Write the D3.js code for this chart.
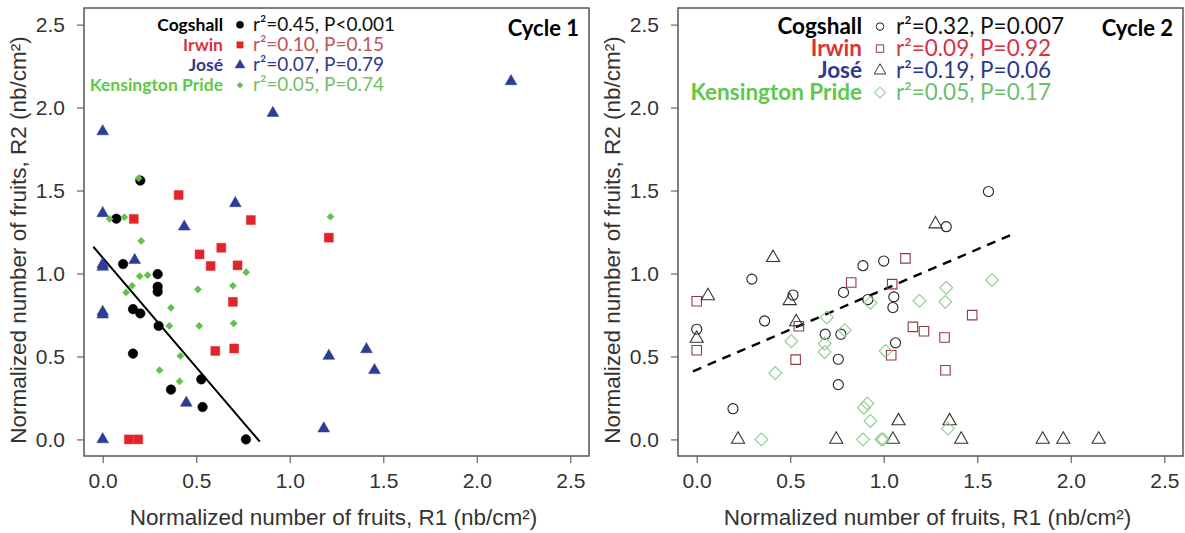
<!DOCTYPE html>
<html>
<head>
<meta charset="utf-8">
<script src="https://cdn.jsdelivr.net/npm/d3@7"></script>
<style>
  html, body { margin: 0; padding: 0; background: #fff; }
  svg { display: block; }
</style>
</head>
<body>
<svg id="chart" width="1185" height="533"></svg>
<script>
// ---- Data: normalized fruit numbers, [R1, R2] per tree ----
// Cycle 1
const cogshallC1 = [[0.201,1.56],[0.073,1.33],[0.109,1.057],[0.294,0.996],[0.294,0.92],[0.294,0.89],
  [0.162,0.785],[0.201,0.759],[0.299,0.684],[0.162,0.517],[0.527,0.362],[0.365,0.300],[0.534,0.195],[0.766,0.0]];
const irwinC1 = [[0.406,1.473],[0.166,1.329],[0.792,1.322],[0.634,1.155],[0.518,1.115],[0.577,1.045],
  [0.721,1.049],[0.696,0.829],[0.602,0.533],[0.703,0.548],[0.14,0.0],[0.19,0.0],[1.209,1.216]];
const joseC1 = [[0.0,1.856],[0.910,1.967],[2.183,2.158],[0.709,1.423],[0.0,1.363],[0.436,1.282],[0.0,1.055],
  [0.0,1.04],[0.171,1.08],[0.0,0.768],[0.0,0.752],[0.447,0.22],[0.0,0.0],[1.209,0.503],[1.410,0.543],[1.453,0.417],[1.182,0.065]];
const kpC1 = [[0.192,1.574],[0.037,1.329],[0.116,1.339],[0.206,1.196],[0.767,1.008],[0.198,0.984],[0.240,0.99],
  [0.157,0.926],[0.125,0.886],[0.509,0.904],[0.696,0.926],[0.365,0.793],[0.356,0.684],[0.516,0.684],
  [0.700,0.699],[0.415,0.503],[0.304,0.417],[0.411,0.350],[1.218,1.342]];

// Cycle 2
const cogshallC2 = [[1.334,1.282],[0.889,1.047],[1.0,1.075],[0.295,0.966],[0.785,0.886],[1.054,0.859],
  [1.049,0.795],[0.915,0.843],[0.515,0.870],[0.0,0.664],[0.363,0.714],[0.687,0.634],[0.771,0.634],
  [1.063,0.582],[0.757,0.483],[0.757,0.330],[0.194,0.185],[1.560,1.494]];
const irwinC2 = [[1.116,1.091],[0.826,0.946],[1.045,0.936],[0.0,0.833],[0.0,0.537],[0.546,0.682],[1.040,0.507],
  [0.529,0.481],[1.156,0.678],[1.215,0.652],[1.325,0.614],[1.330,0.417],[1.473,0.749]];
const joseC2 = [[1.277,1.298],[0.408,1.095],[0.06,0.865],[0.497,0.835],[0.0,0.608],[0.532,0.708],[1.079,0.111],
  [1.352,0.111],[0.221,0.0],[0.746,0.0],[1.049,0.0],[1.414,0.0],[1.850,0.0],[1.960,0.0],[2.149,0.0]];
const kpC2 = [[0.929,0.823],[1.191,0.835],[1.334,0.914],[1.329,0.829],[0.696,0.735],[0.791,0.658],[0.506,0.592],
  [0.684,0.578],[0.684,0.527],[1.010,0.533],[0.420,0.400],[0.894,0.191],[0.912,0.216],[0.929,0.111],
  [1.343,0.065],[0.346,0.0],[0.889,0.0],[0.987,0.0],[0.997,0.0],[1.579,0.960]];

// Cogshall linear fits: [intercept, slope] and the R1 span over which the line is drawn
const fitC1 = [1.095, -1.32];
const fitC1Span = [-0.05, 0.84];
const fitC2 = [0.42, 0.4835];
const fitC2Span = [-0.02, 1.68];

const cultivars = ["Cogshall", "Irwin", "José", "Kensington Pride"];
const statsC1 = ["r²=0.45, P<0.001", "r²=0.10, P=0.15", "r²=0.07, P=0.79", "r²=0.05, P=0.74"];
const statsC2 = ["r²=0.32, P=0.007", "r²=0.09, P=0.92", "r²=0.19, P=0.06", "r²=0.05, P=0.17"];
const cycleTitles = ["Cycle 1", "Cycle 2"];
const tickValues = [0, 0.5, 1.0, 1.5, 2.0, 2.5];
const axisDomain = [-0.1, 2.6];
const xTitle = "Normalized number of fruits, R1 (nb/cm²)";
const yTitle = "Normalized number of fruits, R2 (nb/cm²)";

// ---- Drawing ----
const svg = d3.select("#chart");
const tickFont = "'Liberation Sans', Arial, sans-serif";
const legendFont = "Lato, 'Open Sans', sans-serif";

function shapePath(shape, area) {
  if (shape === "diamond") {
    return d3.symbol(d3.symbolSquare, area)();
  }
  const types = { circle: d3.symbolCircle, square: d3.symbolSquare, triangle: d3.symbolTriangle };
  return d3.symbol(types[shape], area)();
}

function drawPanel(p) {
  const g = svg.append("g");
  const x = d3.scaleLinear().domain(axisDomain).range([p.left, p.left + p.width]);
  const y = d3.scaleLinear().domain(axisDomain).range([p.top + p.height, p.top]);

  // axes (ticks outside the frame)
  const xa = g.append("g").attr("transform", `translate(0,${p.top + p.height})`)
    .call(d3.axisBottom(x).tickValues(tickValues).tickFormat(d3.format(".1f")).tickSize(7).tickPadding(10));
  const ya = g.append("g").attr("transform", `translate(${p.left},0)`)
    .call(d3.axisLeft(y).tickValues(tickValues).tickFormat(d3.format(".1f")).tickSize(7).tickPadding(12));
  [xa, ya].forEach(a => {
    a.select(".domain").remove();
    a.selectAll(".tick line").attr("stroke", "#666").attr("stroke-width", 1.2);
    a.selectAll(".tick text").attr("fill", "#333").style("font-family", tickFont).style("font-size", "21px");
  });

  // frame
  g.append("rect").attr("x", p.left).attr("y", p.top).attr("width", p.width).attr("height", p.height)
    .attr("fill", "none").attr("stroke", "#555").attr("stroke-width", 1.5);

  // axis titles
  g.append("text").attr("x", p.left + p.width / 2 - 3).attr("y", 525).attr("text-anchor", "middle")
    .style("font-family", tickFont).style("font-size", "22.5px").attr("fill", "#333").text(xTitle);
  g.append("text").attr("transform", `translate(${p.left - 58},${p.top + p.height / 2 + 8}) rotate(-90)`)
    .attr("text-anchor", "middle")
    .style("font-family", tickFont).style("font-size", "22.5px").attr("fill", "#333").text(yTitle);

  // fit line
  const line = d3.line().x(d => x(d)).y(d => y(p.fit[0] + p.fit[1] * d));
  g.append("path").attr("d", line(p.fitSpan)).attr("fill", "none").attr("stroke", "#000")
    .attr("stroke-width", p.fitWidth).attr("stroke-dasharray", p.fitDash);

  // points
  p.series.forEach(s => {
    g.append("g").selectAll("path").data(s.data).join("path")
      .attr("d", shapePath(s.shape, s.area))
      .attr("transform", d => `translate(${x(d[0])},${y(d[1])})` + (s.shape === "diamond" ? " rotate(45)" : ""))
      .attr("fill", p.filled ? s.color : "none")
      .attr("stroke", s.color)
      .attr("stroke-width", p.filled ? 0.5 : 1.1);
  });

  // legend
  const lg = g.append("g");
  p.series.forEach((s, i) => {
    const by = p.legendY + i * p.legendStep;
    lg.append("text").attr("x", p.legendNameX).attr("y", by).attr("text-anchor", "end")
      .style("font-family", legendFont).style("font-weight", 700).style("font-size", p.nameSize + "px")
      .attr("fill", s.nameColor).text(cultivars[i]);
    lg.append("path").attr("d", shapePath(s.shape, s.legendArea))
      .attr("transform", `translate(${p.legendMarkX},${by - p.nameSize * 0.33})` + (s.shape === "diamond" ? " rotate(45)" : ""))
      .attr("fill", p.filled ? s.color : "none").attr("stroke", s.color).attr("stroke-width", p.filled ? 0.5 : 1);
    lg.append("text").attr("x", p.legendStatX).attr("y", by)
      .style("font-family", legendFont).style("font-size", p.statSize + "px")
      .attr("fill", s.statColor).text(p.stats[i]);
  });
  g.append("text").attr("x", p.left + p.width - 10).attr("y", p.top + 28).attr("text-anchor", "end")
    .style("font-family", legendFont).style("font-weight", 700).style("font-size", "22px")
    .attr("fill", "#000").text(p.title);
}

drawPanel({
  left: 84, top: 8, width: 505, height: 448, filled: true,
  title: cycleTitles[0], stats: statsC1,
  fit: fitC1, fitSpan: fitC1Span, fitWidth: 2, fitDash: null,
  legendY: 30.5, legendStep: 20.2, nameSize: 17.5, statSize: 19, legendNameX: 223, legendMarkX: 240, legendStatX: 253,
  series: [
    { data: cogshallC1, shape: "circle", area: 72, legendArea: 40, color: "#000", nameColor: "#000", statColor: "#111" },
    { data: irwinC1, shape: "square", area: 80, legendArea: 40, color: "#e3232a", nameColor: "#d9333b", statColor: "#c0545a" },
    { data: joseC1, shape: "triangle", area: 60, legendArea: 42, color: "#2b3d94", nameColor: "#2e3a93", statColor: "#2f3b86" },
    { data: kpC1, shape: "diamond", area: 26, legendArea: 18, color: "#5fc14b", nameColor: "#5cc94a", statColor: "#74bd6c" }
  ]
});

drawPanel({
  left: 678, top: 8, width: 505, height: 448, filled: false,
  title: cycleTitles[1], stats: statsC2,
  fit: fitC2, fitSpan: fitC2Span, fitWidth: 2.4, fitDash: "9,7",
  legendY: 34, legendStep: 22, nameSize: 22.5, statSize: 22.5, legendNameX: 862, legendMarkX: 880, legendStatX: 896,
  series: [
    { data: cogshallC2, shape: "circle", area: 80, legendArea: 45, color: "#222", nameColor: "#000", statColor: "#111" },
    { data: irwinC2, shape: "square", area: 90, legendArea: 55, color: "#8e3c46", nameColor: "#d9333b", statColor: "#d2343f" },
    { data: joseC2, shape: "triangle", area: 75, legendArea: 60, color: "#333", nameColor: "#2e3a93", statColor: "#2a3a88" },
    { data: kpC2, shape: "diamond", area: 82, legendArea: 60, color: "#8ccb8a", nameColor: "#5cc94a", statColor: "#6cbf68" }
  ]
});
</script>
</body>
</html>
